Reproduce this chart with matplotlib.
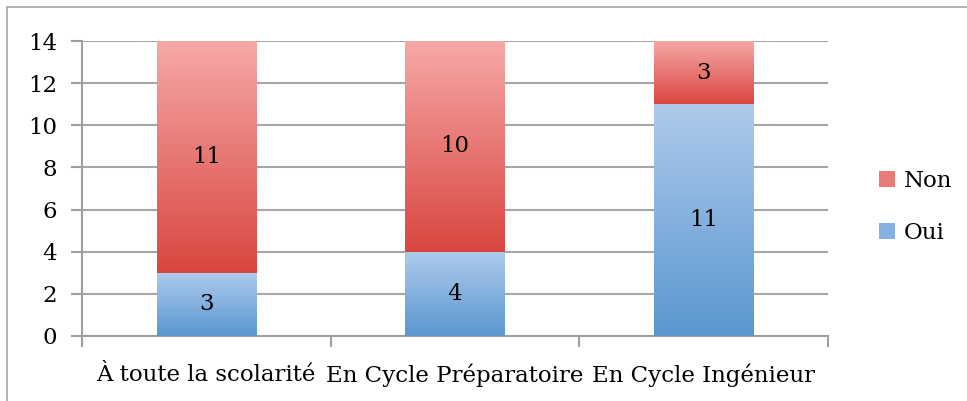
import matplotlib
matplotlib.use("Agg")
import matplotlib.pyplot as plt
import numpy as np
from matplotlib.colors import LinearSegmentedColormap
from matplotlib.patches import Rectangle, Patch

categories = ["À toute la scolarité", "En Cycle Préparatoire", "En Cycle Ingénieur"]
oui = [3, 4, 11]
non = [11, 10, 3]
yticks = [0, 2, 4, 6, 8, 10, 12, 14]

plt.rcParams['font.family'] = ['DejaVu Serif']
FS = 16.5

fig = plt.figure(figsize=(9.67, 4.01), dpi=100)
W, H = 967, 401
ax = fig.add_axes([82 / W, 1 - 336 / H, (827.5 - 82) / W, (336 - 41) / H])

# outer chart border
fig.patches.append(Rectangle((7 / W, -0.01), 2, 1 - 7 / H + 0.01, transform=fig.transFigure,
                             fill=False, edgecolor='#a6a6a6', linewidth=1.2, zorder=0))

x = np.arange(len(categories))
width = 0.4

blue_cmap = LinearSegmentedColormap.from_list('b', ['#5b97d0', '#aecbec'])
red_cmap = LinearSegmentedColormap.from_list('r', ['#d9463f', '#f6a9a8'])

grad = np.linspace(0, 1, 256).reshape(-1, 1)

b1 = ax.bar(x, oui, width, color='none', edgecolor='none', label='Oui')
b2 = ax.bar(x, non, width, bottom=oui, color='none', edgecolor='none', label='Non')

for bars, cmap in ((b1, blue_cmap), (b2, red_cmap)):
    for p in bars:
        x0, y0 = p.get_x(), p.get_y()
        w, h = p.get_width(), p.get_height()
        im = ax.imshow(grad, cmap=cmap, origin='lower', aspect='auto',
                       extent=(x0, x0 + w, y0, y0 + h), zorder=3)
        im.set_clip_path(p)

for i in range(len(categories)):
    ax.text(x[i], oui[i] / 2, str(oui[i]), ha='center', va='center', fontsize=FS, zorder=5)
    ax.text(x[i], oui[i] + non[i] / 2, str(non[i]), ha='center', va='center', fontsize=FS, zorder=5)

ax.set_xlim(-0.5, len(categories) - 0.5)
ax.set_ylim(0, 14)
ax.set_yticks(yticks)
ax.set_yticklabels([str(v) for v in yticks], fontsize=FS)
ax.set_xticks(x)
ax.set_xticklabels(categories, fontsize=FS)
ax.tick_params(axis='x', length=0, pad=20)
ax.tick_params(axis='y', length=8, width=1.5, color='#a0a0a0', pad=10)
ax.set_xticks([-0.5, 0.5, 1.5, 2.5], minor=True)
ax.tick_params(axis='x', which='minor', length=8, width=1.5, color='#a0a0a0', direction='out')

ax.grid(axis='y', color='#a6a6a6', linewidth=1.5, zorder=0)
ax.set_axisbelow(True)
for s in ['top', 'right']:
    ax.spines[s].set_visible(False)
for s in ['left', 'bottom']:
    ax.spines[s].set_color('#a0a0a0')
    ax.spines[s].set_linewidth(1.5)

handles = [Patch(facecolor='#eb7b78', edgecolor='none', label='Non'),
           Patch(facecolor='#86b2e2', edgecolor='none', label='Oui')]
fig.legend(handles=handles, loc='center left', bbox_to_anchor=(858 / W, 1 - 207 / H),
           frameon=False, fontsize=FS, handlelength=0.7, handleheight=0.7,
           handletextpad=0.4, labelspacing=1.3)

fig.savefig('out.png', dpi=100)
